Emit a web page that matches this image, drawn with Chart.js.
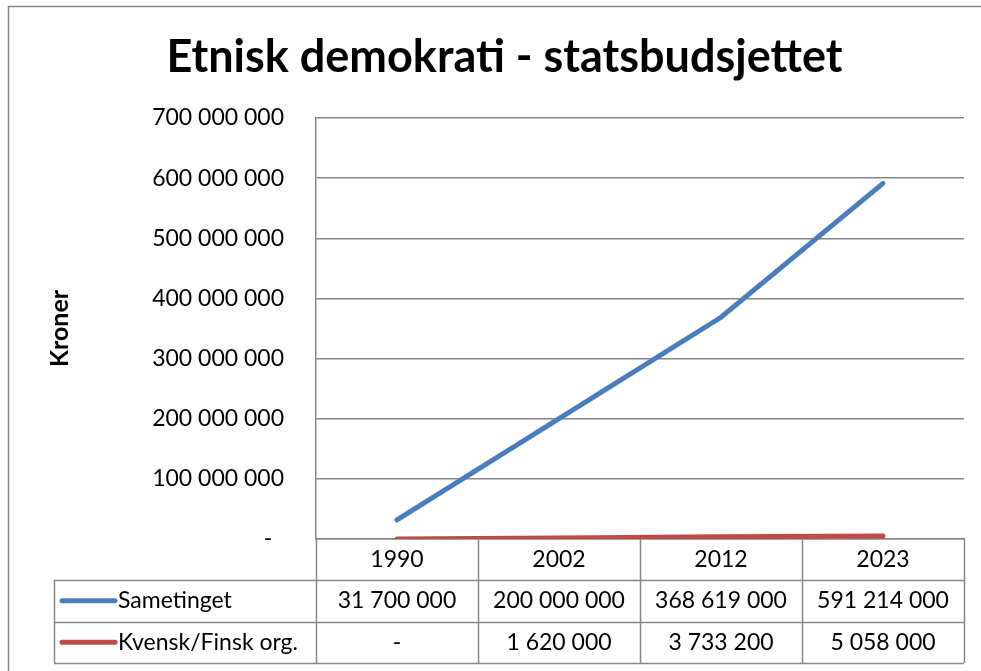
<!DOCTYPE html>
<html>
<head>
<meta charset="utf-8">
<script src="https://cdn.jsdelivr.net/npm/chart.js@4/dist/chart.umd.min.js"></script>
<style>
  body { margin: 0; background: #fff; }
  canvas { display: block; }
</style>
</head>
<body>
<canvas id="budget-chart" width="981" height="671"></canvas>
<script>
const years = ['1990', '2002', '2012', '2023'];
const sametinget = [31700000, 200000000, 368619000, 591214000];
const kvenskFinsk = [0, 1620000, 3733200, 5058000];
const seriesNames = ['Sametinget', 'Kvensk/Finsk org.'];
const yTicks = [0, 100000000, 200000000, 300000000, 400000000, 500000000, 600000000, 700000000];

const gridGrey = '#868686';
const fontFamily = 'Lato, "Open Sans", sans-serif';

function spaced(v) {
    if (!v) return '-';
    return String(v).replace(/\B(?=(\d{3})+(?!\d))/g, ' ');
}

// excel style data table under the x axis + the outer frame
const dataTable = {
    id: 'dataTable',
    afterDraw(chart) {
        const ctx = chart.ctx;
        const x = chart.scales.x;
        const area = chart.chartArea;
        const colW = x.width / years.length;
        const rowH = 41.5;
        const top = area.bottom;
        const rowTop = top + 41;
        const tableLeft = 54;

        ctx.save();
        ctx.strokeStyle = gridGrey;
        ctx.lineWidth = 1.5;

        // frame
        ctx.beginPath();
        ctx.moveTo(8.5, chart.height);
        ctx.lineTo(8.5, 6.5);
        ctx.lineTo(chart.width, 6.5);
        ctx.stroke();

        ctx.beginPath();
        for (let i = 0; i <= years.length; i++) {
            const cx = Math.round(area.left + i * colW) + 0.5;
            ctx.moveTo(cx, top);
            ctx.lineTo(cx, rowTop + 2 * rowH);
        }
        ctx.moveTo(tableLeft + 0.5, rowTop);
        ctx.lineTo(tableLeft + 0.5, rowTop + 2 * rowH);
        for (let r = 0; r <= 2; r++) {
            const ry = Math.round(rowTop + r * rowH) + 0.5;
            ctx.moveTo(tableLeft, ry);
            ctx.lineTo(area.right, ry);
        }
        ctx.stroke();

        ctx.font = '23px ' + fontFamily;
        ctx.textBaseline = 'middle';
        chart.data.datasets.forEach((ds, r) => {
            const cy = rowTop + r * rowH + rowH / 2;
            // legend key
            ctx.strokeStyle = ds.borderColor;
            ctx.lineWidth = 5;
            ctx.lineCap = 'round';
            ctx.beginPath();
            ctx.moveTo(62, cy);
            ctx.lineTo(115, cy);
            ctx.stroke();
            ctx.fillStyle = '#000';
            ctx.textAlign = 'left';
            ctx.fillText(seriesNames[r], 118, cy);
            ctx.textAlign = 'center';
            ds.data.forEach((v, i) => {
                ctx.fillText(spaced(v), x.getPixelForValue(i), cy);
            });
        });
        ctx.restore();
    }
};

new Chart(document.getElementById('budget-chart').getContext('2d'), {
    type: 'line',
    data: {
        labels: years,
        datasets: [{
            label: seriesNames[0],
            data: sametinget,
            borderColor: '#4a7ebb',
            borderWidth: 5,
            borderCapStyle: 'round',
            pointRadius: 0,
            tension: 0
        }, {
            label: seriesNames[1],
            data: kvenskFinsk,
            borderColor: '#be4b48',
            borderWidth: 5,
            borderCapStyle: 'round',
            pointRadius: 0,
            tension: 0
        }]
    },
    options: {
        responsive: false,
        animation: false,
        layout: {
            padding: { left: 45, right: 17, top: 0, bottom: 91 }
        },
        plugins: {
            legend: { display: false },
            tooltip: { enabled: false },
            title: {
                display: true,
                text: 'Etnisk demokrati - statsbudsjettet',
                color: '#000',
                font: { family: fontFamily, size: 45, weight: 'bold' },
                padding: { top: 30, bottom: 34 }
            }
        },
        scales: {
            x: {
                offset: true,
                grid: { display: false, drawTicks: false },
                border: { color: gridGrey, width: 1.5 },
                ticks: {
                    color: '#000',
                    padding: 7,
                    font: { family: fontFamily, size: 23 }
                },
                afterFit(scale) { scale.height = 41; }
            },
            y: {
                min: 0,
                max: 700000000,
                afterBuildTicks(scale) {
                    scale.ticks = yTicks.map(v => ({ value: v }));
                },
                grid: { color: gridGrey, lineWidth: 1.5, drawTicks: false },
                border: { color: gridGrey, width: 1.5 },
                ticks: {
                    color: '#000',
                    padding: 32,
                    font: { family: fontFamily, size: 23 },
                    callback: v => v === 0 ? '-  ' : spaced(v)
                },
                title: {
                    display: true,
                    text: 'Kroner',
                    color: '#000',
                    font: { family: fontFamily, size: 25, weight: 'bold' },
                    padding: { top: 0 }
                },
                afterFit(scale) { scale.width = 271; }
            }
        }
    },
    plugins: [dataTable]
});
</script>
</body>
</html>
